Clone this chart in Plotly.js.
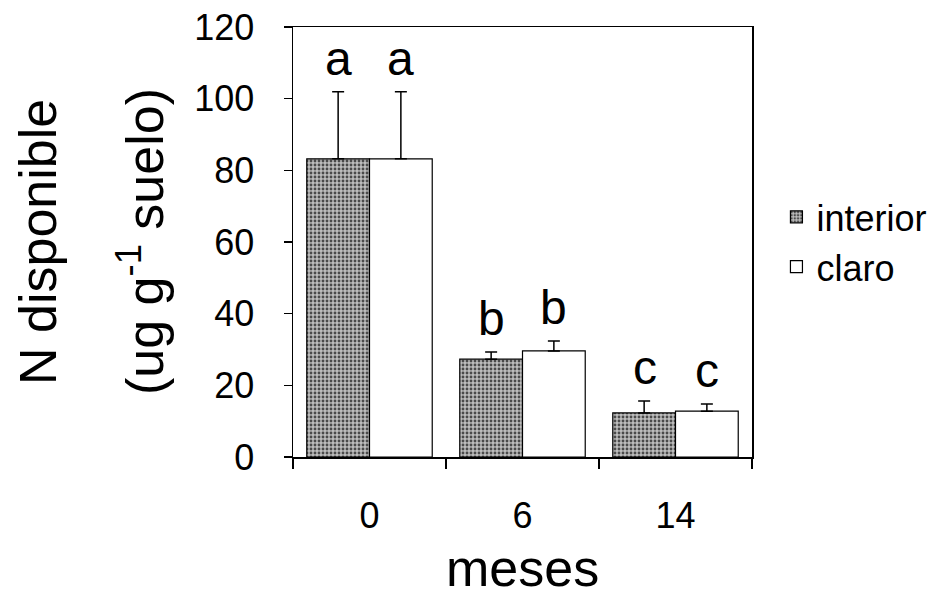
<!DOCTYPE html>
<html>
<head>
<meta charset="utf-8">
<script src="https://cdn.plot.ly/plotly-3.0.1.min.js"></script>
<style>html,body{margin:0;padding:0;background:#fff;}#chart{width:940px;height:603px;}</style>
</head>
<body>
<div id="chart"></div>
<script>
const meses = ['0', '6', '14'];
const interior = [83.2, 27.3, 12.3];
const interiorErr = [18.7, 2.0, 3.3];
const claro = [83.2, 29.6, 12.8];
const claroErr = [18.7, 2.8, 2.0];
const letrasInterior = ['a', 'b', 'c'];
const letrasClaro = ['a', 'b', 'c'];
const yTicks = [0, 20, 40, 60, 80, 100, 120];

const FONT = 'Liberation Sans, Arial, sans-serif';

const traces = [
  {
    type: 'bar', name: 'interior', x: meses, y: interior, legendgroup: 'g1',
    marker: {
      color: '#a8a8a8',
      line: {color: '#000', width: 1.2},
      pattern: {shape: '.', fgcolor: '#4a4a4a', bgcolor: '#bdbdbd', size: 4, solidity: 0.4}
    },
    error_y: {type: 'data', symmetric: false, array: interiorErr, arrayminus: [0,0,0], color: '#000', thickness: 1.5, width: 6}
  },
  {
    type: 'bar', name: 'claro', x: meses, y: claro, legendgroup: 'g2',
    marker: {color: '#ffffff', line: {color: '#000', width: 1.2}},
    error_y: {type: 'data', symmetric: false, array: claroErr, arrayminus: [0,0,0], color: '#000', thickness: 1.5, width: 6}
  }
];

const annotations = [];
meses.forEach((m, i) => {
  annotations.push({x: i, y: interior[i] + interiorErr[i], xref: 'x', yref: 'y', text: letrasInterior[i],
    showarrow: false, xshift: -31, yanchor: 'bottom', yshift: 5, font: {family: FONT, size: 48, color: '#000'}});
  annotations.push({x: i, y: claro[i] + claroErr[i], xref: 'x', yref: 'y', text: letrasClaro[i],
    showarrow: false, xshift: 31, yanchor: 'bottom', yshift: 5, font: {family: FONT, size: 48, color: '#000'}});
});
annotations.push({xref: 'paper', yref: 'paper', x: 0, y: 0.5, xshift: -255, text: 'N disponible',
  textangle: -90, showarrow: false, xanchor: 'center', yanchor: 'middle', font: {family: FONT, size: 52, color: '#000'}});
annotations.push({xref: 'paper', yref: 'paper', x: 0, y: 0.5, xshift: -152, text: '(ug g<sup>-1</sup> suelo)',
  textangle: -90, showarrow: false, xanchor: 'center', yanchor: 'middle', font: {family: FONT, size: 52, color: '#000'}});
annotations.push({xref: 'paper', yref: 'paper', x: 0.5, y: 0, yshift: -80, text: 'meses',
  showarrow: false, xanchor: 'center', yanchor: 'top', font: {family: FONT, size: 52, color: '#000'}});

const layout = {
  width: 940, height: 603,
  margin: {l: 293, r: 188, t: 27, b: 146, autoexpand: false},
  paper_bgcolor: '#fff', plot_bgcolor: '#fff',
  barmode: 'group', bargap: 0.18, bargroupgap: 0,
  font: {family: FONT, color: '#000'},
  showlegend: true,
  legend: {xref: 'container', yref: 'container', x: 0.826, y: 0.69, xanchor: 'left', yanchor: 'top',
    font: {family: FONT, size: 36, color: '#000'},
    traceorder: 'grouped', tracegroupgap: 0, bgcolor: 'rgba(0,0,0,0)', itemwidth: 30},
  xaxis: {
    type: 'category', categoryorder: 'array', categoryarray: meses, range: [-0.5, 2.5],
    showline: true, linecolor: '#000', linewidth: 1.5, mirror: true,
    ticks: 'outside', tickson: 'boundaries', ticklen: 10, tickcolor: '#000', tickwidth: 1.2,
    tickangle: 0, ticklabelstandoff: 26, tickfont: {family: FONT, size: 36, color: '#000'},
    showgrid: false, zeroline: false
  },
  yaxis: {
    range: [0, 120], tickmode: 'array', tickvals: yTicks, ticktext: yTicks.map(String),
    showline: true, linecolor: '#000', linewidth: 1.5, mirror: true,
    ticks: 'outside', ticklen: 8, tickcolor: '#000', tickwidth: 1.2,
    ticklabelstandoff: 22, tickfont: {family: FONT, size: 36, color: '#000'},
    showgrid: false, zeroline: false
  },
  annotations: annotations
};

Plotly.newPlot('chart', traces, layout, {displayModeBar: false, staticPlot: true});
</script>
</body>
</html>
